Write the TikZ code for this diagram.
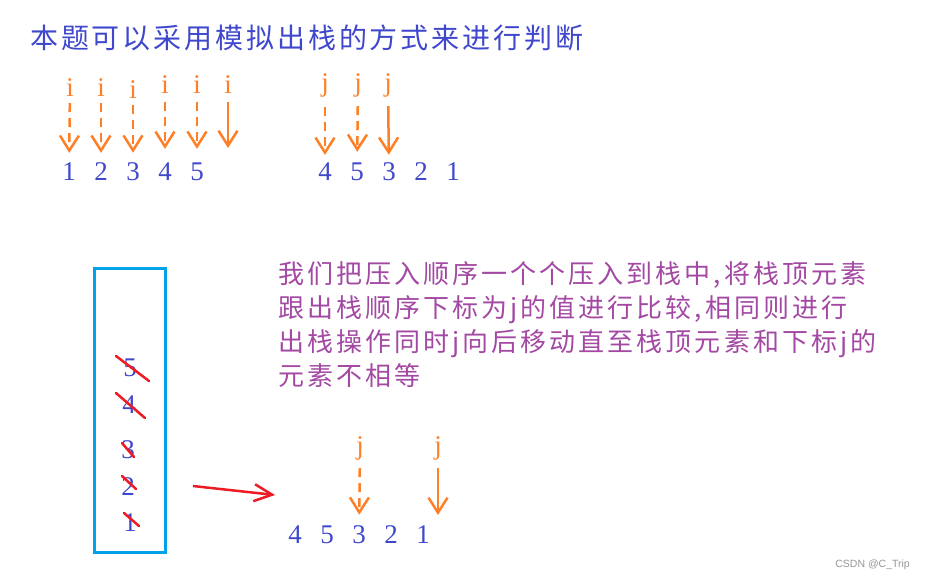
\documentclass[tikz,border=0pt]{standalone}
\usepackage{fontspec}
\newfontfamily\cjk{Noto Sans CJK SC}
\newfontfamily\numfont{Liberation Serif}
\newfontfamily\wmfont{Liberation Sans}
\usetikzlibrary{arrows.meta}
\definecolor{numblue}{RGB}{63,72,204}
\definecolor{idxorange}{RGB}{255,127,39}
\definecolor{strikered}{RGB}{237,28,36}
\definecolor{stackblue}{RGB}{0,162,232}
\definecolor{notepurple}{RGB}{163,73,164}
\tikzstyle{num} = [font=\numfont\fontsize{27}{27}\selectfont, text=numblue, inner sep=0pt]
\tikzstyle{idx} = [font=\numfont\fontsize{27}{27}\selectfont, text=idxorange, inner sep=0pt]
\tikzstyle{arrow} = [draw=idxorange, line width=2.5pt, -{Straight Barb[length=15pt, width=19pt]}]
\tikzstyle{darrow} = [arrow, dash pattern=on 9pt off 6pt]
\tikzstyle{strike} = [draw=strikered, line width=2.5pt, line cap=round]
\tikzstyle{note} = [font=\cjk\addfontfeature{LetterSpace=11.7}\fontsize{26}{34}\selectfont, text=notepurple, align=left, inner sep=0pt]

\begin{document}
\begin{tikzpicture}[x=1pt, y=-1pt, node distance=32pt]
\useasboundingbox (0,0) rectangle (925,579);

\node (title) [anchor=west, inner sep=0pt, text=numblue, font=\cjk\addfontfeature{LetterSpace=10.3}\fontsize{28}{28}\selectfont] at (30,38) {本题可以采用模拟出栈的方式来进行判断};

% push order with i
\node (a1) [num] at (69,172) {1};
\node (a2) [num, right of=a1] {2};
\node (a3) [num, right of=a2] {3};
\node (a4) [num, right of=a3] {4};
\node (a5) [num, right of=a4] {5};
\node (i1) [idx] at (70,88) {i};
\node (i2) [idx] at (101,88) {i};
\node (i3) [idx] at (133,90) {i};
\node (i4) [idx] at (165,85) {i};
\node (i5) [idx] at (197,85) {i};
\node (i6) [idx] at (228,85) {i};
\coordinate (e6) at (228,148);

\draw [darrow, shorten <=6pt, shorten >=10pt] (i1) -- (a1);
\draw [darrow, shorten <=6pt, shorten >=10pt] (i2) -- (a2);
\draw [darrow, shorten <=6pt, shorten >=10pt] (i3) -- (a3);
\draw [darrow, shorten <=8pt, shorten >=14pt] (i4) -- (a4);
\draw [darrow, shorten <=8pt, shorten >=14pt] (i5) -- (a5);
\draw [arrow, shorten <=8pt] (i6) -- (e6);

% pop order with j
\node (c1) [num] at (325,172) {4};
\node (c2) [num, right of=c1] {5};
\node (c3) [num, right of=c2] {3};
\node (c4) [num, right of=c3] {2};
\node (c5) [num, right of=c4] {1};
\node (j1) [idx] at (325,85) {j};
\node (j2) [idx] at (358,85) {j};
\node (j3) [idx] at (388,85) {j};

\draw [darrow, shorten <=10pt, shorten >=8pt] (j1) -- (c1);
\draw [darrow, shorten <=9pt, shorten >=11pt] (j2) -- (c2);
\draw [arrow, shorten <=9pt, shorten >=8pt] (j3) -- (c3);

% stack
\node (stack) [draw=stackblue, line width=3pt, minimum width=71pt, minimum height=284pt, inner sep=0pt] at (129.5,410) {};
\node (s5) [num] at (130,368) {5};
\node (s4) [num] at (129,405) {4};
\node (s3) [num] at (128,450) {3};
\node (s2) [num] at (128,487) {2};
\node (s1) [num] at (130,523) {1};
\draw [strike] ([shift={(-14,-12)}]s5.center) -- ([shift={(19,13)}]s5.center);
\draw [strike] ([shift={(-13,-12)}]s4.center) -- ([shift={(16,13)}]s4.center);
\draw [strike] ([shift={(-6,-7)}]s3.center) -- ([shift={(6,7)}]s3.center);
\draw [strike] ([shift={(-6,-11)}]s2.center) -- ([shift={(8,2)}]s2.center);
\draw [strike] ([shift={(-6,-10)}]s1.center) -- ([shift={(9,3)}]s1.center);

\coordinate (mv1) at (193,486);
\coordinate (mv2) at (275,495);
\draw [draw=strikered, line width=2.5pt, -{Straight Barb[length=18pt, width=17pt]}] (mv1) -- (mv2);

% explanation
\node (text) [note, anchor=north west] at (278,261.5) {我们把压入顺序一个个压入到栈中,将栈顶元素\\跟出栈顺序下标为j的值进行比较,相同则进行\\出栈操作同时j向后移动直至栈顶元素和下标j的\\元素不相等};

% pop order after moving j
\node (b1) [num] at (295,535) {4};
\node (b2) [num, right of=b1] {5};
\node (b3) [num, right of=b2] {3};
\node (b4) [num, right of=b3] {2};
\node (b5) [num, right of=b4] {1};
\node (k1) [idx] at (360,448) {j};
\node (k2) [idx] at (438,448) {j};
\coordinate (e7) at (438,515);

\draw [darrow, shorten <=8pt, shorten >=11pt] (k1) -- (b3);
\draw [arrow, shorten <=8pt] (k2) -- (e7);

\node (mark) [anchor=east, inner sep=0pt, text={rgb,255:red,150;green,150;blue,150}, font=\wmfont\fontsize{10.5}{10.5}\selectfont] at (910,565) {CSDN @C\_Trip};

\end{tikzpicture}
\end{document}
